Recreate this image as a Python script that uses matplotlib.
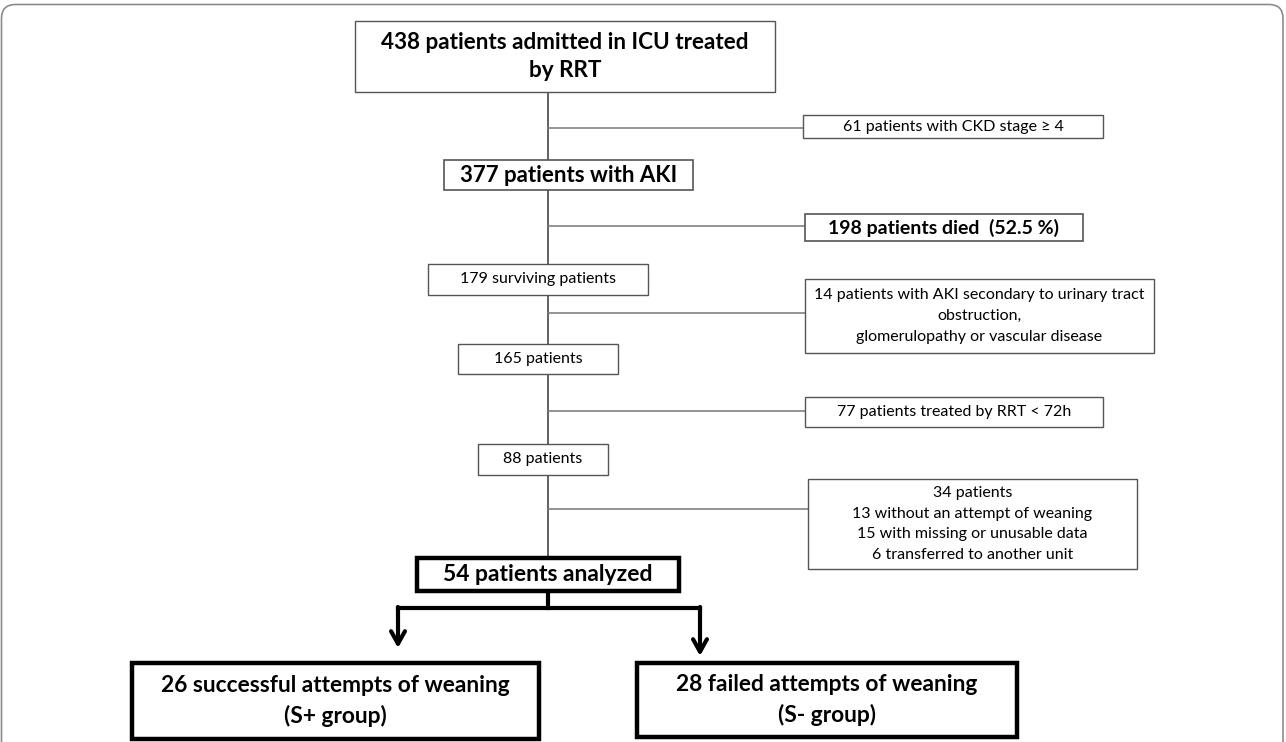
import matplotlib.pyplot as plt
from matplotlib.patches import Rectangle, FancyBboxPatch

plt.rcParams['font.family'] = ['Lato', 'DejaVu Sans']

# Flowchart content
main_labels = ['438 patients admitted in ICU treated\nby RRT',
               '377 patients with AKI',
               '179 surviving patients',
               '165 patients',
               '88 patients',
               '54 patients analyzed']
excluded_labels = ['61 patients with CKD stage ≥ 4',
                   '198 patients died  (52.5 %)',
                   '14 patients with AKI secondary to urinary tract\nobstruction,\nglomerulopathy or vascular disease',
                   '77 patients treated by RRT < 72h',
                   '34 patients\n13 without an attempt of weaning\n15 with missing or unusable data\n6 transferred to another unit']
group_labels = ['26 successful attempts of weaning\n(S+ group)',
                '28 failed attempts of weaning\n(S- group)']

# layout in pixel coordinates (x0, y0, x1, y1)
main_boxes = [(355, 21, 775, 92), (444, 160, 693, 190), (428, 264, 648, 295),
              (458, 344, 618, 374), (478, 444, 608, 475), (417, 558, 679, 591)]
main_style = [('bold', 16.2, 1.0), ('bold', 16, 1.2), ('normal', 11.5, 1.0),
              ('normal', 11.5, 1.0), ('normal', 11.5, 1.0), ('bold', 16.5, 3.2)]
exc_boxes = [(803, 115, 1103, 138), (805, 214, 1083, 241), (805, 279, 1154, 353),
             (805, 397, 1103, 427), (808, 479, 1137, 569)]
exc_style = [('normal', 11.5, 1.0), ('bold', 14, 1.2), ('normal', 11.5, 1.0),
             ('normal', 11.5, 1.0), ('normal', 11.5, 1.0)]
branch_y = [128, 226, 313, 411, 509]
group_boxes = [(132, 663, 539, 739), (637, 663, 1017, 737)]
arrow_x = [398, 700]
arrow_tip = [648, 656]
split_y = 608
spine_x = 548
line_col = '#555555'

fig = plt.figure(figsize=(12.86, 7.42), dpi=100)
ax = fig.add_axes([0, 0, 1, 1])
ax.set_xlim(0, 1286)
ax.set_ylim(742, 0)
ax.axis('off')

# outer rounded frame
ax.add_patch(FancyBboxPatch((1.5, 4.5), 1281.5, 800,
                            boxstyle='round,pad=0,rounding_size=14',
                            fill=False, ec='#8c8c8c', lw=1.2))


def box(b, text, weight, size, lw, linespacing=1.25):
    x0, y0, x1, y1 = b
    ax.add_patch(Rectangle((x0, y0), x1 - x0, y1 - y0, fill=True, fc='white',
                           ec='black' if lw > 2 else line_col, lw=lw, zorder=3))
    ax.text((x0 + x1) / 2, (y0 + y1) / 2, text, ha='center', va='center',
            fontsize=size, fontweight=weight, linespacing=linespacing,
            color='black', zorder=4)


# main vertical line
ax.plot([spine_x, spine_x], [main_boxes[0][3], main_boxes[-1][1]],
        color=line_col, lw=1.3, zorder=1)

# exclusion branches
for y, b in zip(branch_y, exc_boxes):
    ax.plot([spine_x, b[0]], [y, y], color='#777777', lw=1.1, zorder=1)

for b, t, (w, s, lw) in zip(main_boxes, main_labels, main_style):
    box(b, t, w, s, lw, linespacing=1.4)
for b, t, (w, s, lw) in zip(exc_boxes, excluded_labels, exc_style):
    box(b, t, w, s, lw, linespacing=1.62)
for b, t in zip(group_boxes, group_labels):
    box(b, t, 'bold', 16.4, 3.2, linespacing=1.5)

# split into the two groups
bot = main_boxes[-1][3]
ax.plot([spine_x, spine_x], [bot, split_y], color='black', lw=3, zorder=2)
ax.plot([arrow_x[0], arrow_x[1]], [split_y, split_y], color='black', lw=3,
        zorder=2, solid_capstyle='projecting')
for x, tip in zip(arrow_x, arrow_tip):
    ax.annotate('', xy=(x, tip), xytext=(x, split_y - 1),
                arrowprops=dict(arrowstyle='->,head_length=0.9,head_width=0.5',
                                color='black', lw=3, shrinkA=0, shrinkB=0))

fig.savefig('out.png', dpi=100)
